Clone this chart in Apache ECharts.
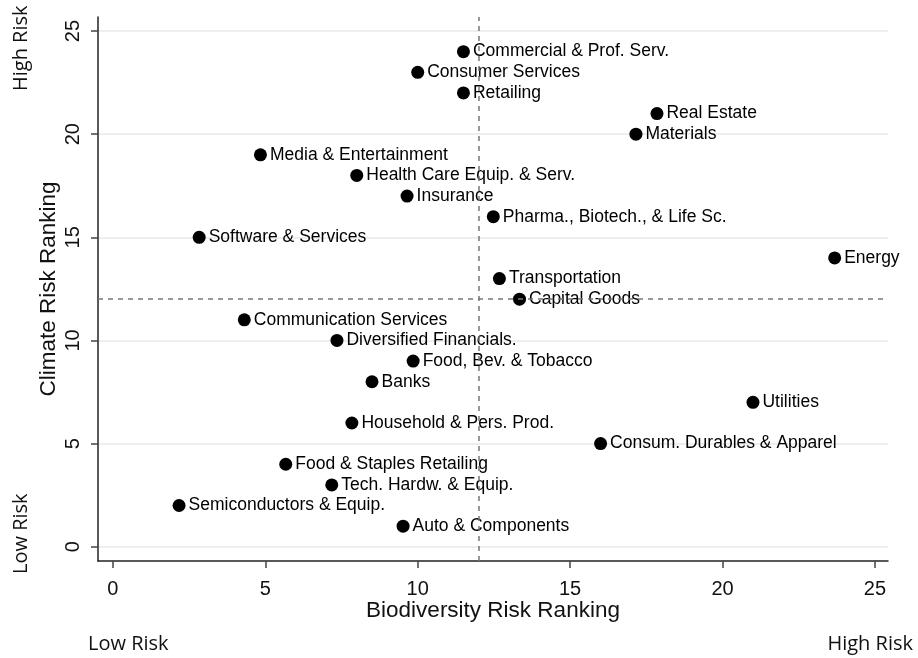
<!DOCTYPE html>
<html>
<head>
<meta charset="utf-8">
<script src="https://cdn.jsdelivr.net/npm/echarts@6/dist/echarts.min.js"></script>
<style>html,body{margin:0;padding:0;background:#fff}#c{width:918px;height:658px}</style>
</head>
<body>
<div id="c"></div>
<script>
const sectors = ["Commercial & Prof. Serv.","Consumer Services","Retailing","Real Estate","Materials","Media & Entertainment","Health Care Equip. & Serv.","Insurance","Pharma., Biotech., & Life Sc.","Software & Services","Energy","Transportation","Capital Goods","Communication Services","Diversified Financials.","Food, Bev. & Tobacco","Banks","Utilities","Household & Pers. Prod.","Consum. Durables & Apparel","Food & Staples Retailing","Tech. Hardw. & Equip.","Semiconductors & Equip.","Auto & Components"];
const biodiversityRank = [11.5,10.0,11.5,17.85,17.16,4.84,8.0,9.65,12.48,2.83,23.68,12.68,13.34,4.31,7.35,9.85,8.5,21.0,7.84,16.0,5.67,7.18,2.17,9.52];
const climateRank = [24,23,22,21,20,19,18,17,16,15,14,13,12,11,10,9,8,7,6,5,4,3,2,1];
const medianX = 12;
const medianY = 12;
const tickValues = [0,5,10,15,20,25];

const chart = echarts.init(document.getElementById('c'));
const data = sectors.map((s,i)=>({value:[biodiversityRank[i], climateRank[i]], name:s}));
const font = 'Arial, "Liberation Sans", sans-serif';
const cfont = '"Open Sans", sans-serif';
chart.setOption({
  animation:false,
  backgroundColor:'#fff',
  grid:{left:98,right:30,top:17,bottom:97},
  xAxis:{
    type:'value', min:-0.49, max:25.43, interval:5,
    name:'Biodiversity Risk Ranking', nameLocation:'middle', nameGap:38, nameMoveOverlap:false,
    nameTextStyle:{fontSize:22.5,color:'#111',fontFamily:font},
    axisLine:{show:true,onZero:false,lineStyle:{color:'#222',width:1.5}},
    axisTick:{show:true,length:7,lineStyle:{color:'#444',width:1.5},customValues:tickValues},
    axisLabel:{fontSize:20,color:'#111',fontFamily:font,margin:18,customValues:tickValues},
    splitLine:{show:false}
  },
  yAxis:{
    type:'value', min:-0.69, max:25.68, interval:5,
    name:'Climate Risk Ranking', nameLocation:'middle', nameGap:38, nameMoveOverlap:false,
    nameTextStyle:{fontSize:22.5,color:'#111',fontFamily:font},
    axisLine:{show:true,onZero:false,lineStyle:{color:'#222',width:1.5}},
    axisTick:{show:true,length:7,lineStyle:{color:'#444',width:1.5},customValues:tickValues},
    axisLabel:{fontSize:20,color:'#111',fontFamily:font,rotate:90,margin:15,customValues:tickValues},
    splitLine:{show:true,lineStyle:{color:'#e8e8e8',width:1.5}},
  },
  series:[{
    type:'scatter',
    data:data,
    symbolSize:13,
    itemStyle:{color:'#000',opacity:1},
    label:{show:true,position:'right',distance:3,formatter:p=>p.name,fontSize:17.5,color:'#000',fontFamily:font},
    markLine:{
      silent:true, symbol:'none',
      lineStyle:{type:[5,5],color:'#777',width:1.5},
      label:{show:false},
      data:[{xAxis:medianX},{yAxis:medianY}]
    }
  }],
  graphic:[
    {type:'text',left:88,top:634,style:{text:'Low Risk',fontSize:20,fill:'#111',fontFamily:cfont}},
    {type:'text',right:5,top:634,style:{text:'High Risk',fontSize:20,fill:'#111',fontFamily:cfont}},
    {type:'text',x:11,y:91,rotation:Math.PI/2,style:{text:'High Risk',fontSize:20,fill:'#111',fontFamily:cfont}},
    {type:'text',x:11,y:574,rotation:Math.PI/2,style:{text:'Low Risk',fontSize:20,fill:'#111',fontFamily:cfont}}
  ]
});
</script>
</body>
</html>
